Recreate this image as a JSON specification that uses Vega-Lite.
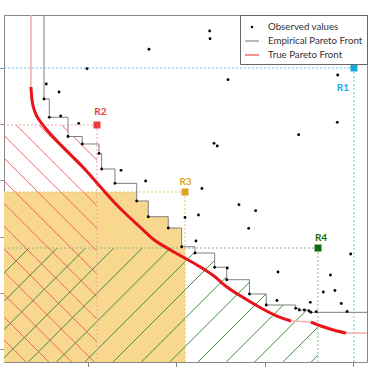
{
  "$schema": "https://vega.github.io/schema/vega-lite/v6.json",
  "width": 363,
  "height": 347,
  "autosize": {"type": "none"},
  "padding": {"left": 4, "top": 15, "right": 2, "bottom": 5},
  "background": "white",
  "config": {"view": {"stroke": "#888888", "strokeWidth": 1}},
  "datasets": {
    "pts": [
      {"x":169.1,"y":533.3},{"x":98.9,"y":498.8},{"x":52.8,"y":471.5},{"x":67.2,"y":457.3},{"x":50.2,"y":444.9},
      {"x":56.2,"y":412.3},{"x":69.1,"y":414.6},{"x":89.5,"y":401.6},{"x":77.4,"y":378.1},{"x":93.5,"y":364.8},
      {"x":112.5,"y":347.9},{"x":115.5,"y":320.3},{"x":137.4,"y":318.0},{"x":130.6,"y":294.8},{"x":165.3,"y":298.9},
      {"x":237.8,"y":565.8},{"x":238.2,"y":552.2},{"x":382.8,"y":487.6},{"x":258.6,"y":479.2},{"x":382.3,"y":403.4},
      {"x":338.6,"y":381.3},{"x":242.7,"y":366.0},{"x":246.4,"y":361.2},{"x":229.1,"y":285.6},{"x":209.9,"y":234.0},
      {"x":271.0,"y":256.8},{"x":289.9,"y":246.1},{"x":225.1,"y":238.4},{"x":282.0,"y":214.8},{"x":222.3,"y":192.2},
      {"x":155.2,"y":263.4},{"x":168.3,"y":235.4},{"x":190.9,"y":215.3},{"x":206.1,"y":182.0},{"x":221.2,"y":170.8},
      {"x":243.5,"y":145.4},{"x":257.8,"y":144.1},{"x":257.1,"y":123.3},{"x":315.2,"y":137.0},{"x":282.9,"y":97.9},
      {"x":314.0,"y":86.3},{"x":301.9,"y":78.3},{"x":351.8,"y":83.1},{"x":335.2,"y":72.4},{"x":339.3,"y":69.4},
      {"x":345.0,"y":69.4},{"x":350.3,"y":67.6},{"x":352.5,"y":65.3},{"x":358.5,"y":66.4},{"x":397.5,"y":169.0},
      {"x":374.6,"y":131.7},{"x":366.5,"y":101.4},{"x":379.7,"y":104.1},{"x":386.9,"y":81.0},{"x":393.5,"y":66.7}
    ],
    "emp": [
      {"i":0,"x":50.2,"y":594.3},{"i":1,"x":50.2,"y":444.9},{"i":2,"x":56.2,"y":412.3},{"i":3,"x":77.4,"y":378.1},
      {"i":4,"x":93.5,"y":364.8},{"i":5,"x":112.5,"y":347.9},{"i":6,"x":115.5,"y":320.3},{"i":7,"x":130.6,"y":294.8},
      {"i":8,"x":155.2,"y":263.4},{"i":9,"x":168.3,"y":235.4},{"i":10,"x":190.9,"y":215.3},{"i":11,"x":206.1,"y":182.0},
      {"i":12,"x":221.2,"y":170.8},{"i":13,"x":243.5,"y":145.4},{"i":14,"x":257.1,"y":123.3},{"i":15,"x":282.9,"y":97.9},
      {"i":16,"x":301.9,"y":78.3},{"i":17,"x":335.2,"y":72.4},{"i":18,"x":339.3,"y":69.4},{"i":19,"x":345.0,"y":69.4},
      {"i":20,"x":350.3,"y":67.6},{"i":21,"x":352.5,"y":65.3},{"i":22,"x":416,"y":65.3}
    ],
    "cov": [
      {"x":50.2,"y":444.9},{"x":56.2,"y":412.3},{"x":77.4,"y":378.1},{"x":93.5,"y":364.8},{"x":112.5,"y":347.9},
      {"x":115.5,"y":320.3},{"x":130.6,"y":294.8},{"x":155.2,"y":263.4},{"x":168.3,"y":235.4},{"x":190.9,"y":215.3},
      {"x":206.1,"y":182.0},{"x":221.2,"y":170.8},{"x":243.5,"y":145.4},{"x":257.1,"y":123.3},{"x":282.9,"y":97.9},
      {"x":301.9,"y":78.3},{"x":335.2,"y":72.4},{"x":339.3,"y":69.4},{"x":345.0,"y":69.4},{"x":350.3,"y":67.6},
      {"x":352.5,"y":65.3},{"x":361.5,"y":65.3}
    ],
    "tf": [
      {"seg":"a","i":0,"x":35.4,"y":466.2},{"seg":"a","i":1,"x":36.6,"y":443.1},{"seg":"a","i":2,"x":40.0,"y":421.7},
      {"seg":"a","i":3,"x":45.6,"y":405.7},{"seg":"a","i":4,"x":53.6,"y":389.7},{"seg":"a","i":5,"x":64.9,"y":370.1},
      {"seg":"a","i":6,"x":78.5,"y":348.8},{"seg":"a","i":7,"x":93.2,"y":325.6},{"seg":"a","i":8,"x":110.2,"y":295.4},
      {"seg":"a","i":9,"x":128.3,"y":263.4},{"seg":"a","i":10,"x":144.2,"y":238.4},{"seg":"a","i":11,"x":158.9,"y":217.1},
      {"seg":"a","i":12,"x":173.6,"y":195.7},{"seg":"a","i":13,"x":189.5,"y":179.7},{"seg":"a","i":14,"x":207.6,"y":163.7},
      {"seg":"a","i":15,"x":223.4,"y":149.5},{"seg":"a","i":16,"x":242.7,"y":129.9},{"seg":"a","i":17,"x":257.4,"y":110.3},
      {"seg":"a","i":18,"x":276.7,"y":90.7},{"seg":"a","i":19,"x":295.9,"y":73.0},{"seg":"a","i":20,"x":314.0,"y":58.7},
      {"seg":"a","i":21,"x":329.9,"y":49.8},
      {"seg":"b","i":0,"x":352.5,"y":48.0},{"seg":"b","i":1,"x":367.3,"y":39.1},{"seg":"b","i":2,"x":382.0,"y":32.0},
      {"seg":"b","i":3,"x":392.2,"y":28.5}
    ],
    "tfpale": [
      {"seg":"p1","i":0,"x":35.4,"y":594.3},{"seg":"p1","i":1,"x":35.4,"y":466.2},
      {"seg":"p2","i":0,"x":329.9,"y":49.8},{"seg":"p2","i":1,"x":352.5,"y":48.0},
      {"seg":"p3","i":0,"x":392.2,"y":28.5},{"seg":"p3","i":1,"x":416,"y":28.5}
    ],
    "hr": [
      {"x":95.9,"y":398.6,"x2":110.2,"y2":376.2},{"x":70.2,"y":398.6,"x2":110.2,"y2":335.8},
      {"x":44.5,"y":398.6,"x2":110.2,"y2":295.4},{"x":18.8,"y":398.6,"x2":110.2,"y2":255.0},
      {"x":4.9,"y":380.1,"x2":110.2,"y2":214.6},{"x":4.9,"y":339.7,"x2":110.2,"y2":174.2},
      {"x":4.9,"y":299.3,"x2":110.2,"y2":133.8},{"x":4.9,"y":258.9,"x2":110.2,"y2":93.4},
      {"x":4.9,"y":218.5,"x2":110.2,"y2":53.0},{"x":4.9,"y":178.1,"x2":110.2,"y2":12.6},
      {"x":4.9,"y":137.7,"x2":107.2,"y2":-23.1},{"x":4.9,"y":97.3,"x2":81.5,"y2":-23.1},
      {"x":4.9,"y":56.9,"x2":55.8,"y2":-23.1},{"x":4.9,"y":16.5,"x2":30.1,"y2":-23.1}
    ],
    "hg": [
      {"x":4.9,"y":135.2,"x2":33.2,"y2":179.7},{"x":4.9,"y":84.9,"x2":65.2,"y2":179.7},
      {"x":4.9,"y":34.5,"x2":97.3,"y2":179.7},{"x":4.9,"y":-15.8,"x2":129.3,"y2":179.7},
      {"x":32.3,"y":-23.1,"x2":161.4,"y2":179.7},{"x":64.3,"y":-23.1,"x2":193.4,"y2":179.7},
      {"x":96.4,"y":-23.1,"x2":225.5,"y2":179.7},{"x":128.4,"y":-23.1,"x2":257.5,"y2":179.7},
      {"x":160.5,"y":-23.1,"x2":289.6,"y2":179.7},{"x":192.5,"y":-23.1,"x2":321.6,"y2":179.7},
      {"x":224.6,"y":-23.1,"x2":353.7,"y2":179.7},{"x":256.6,"y":-23.1,"x2":360.5,"y2":140.0},
      {"x":288.7,"y":-23.1,"x2":360.5,"y2":89.7},{"x":320.7,"y":-23.1,"x2":360.5,"y2":39.3},
      {"x":352.8,"y":-23.1,"x2":360.5,"y2":-11.0}
    ],
    "refs": [
      {"R":"R1","x":401.2,"y":500.0},{"R":"R2","x":110.2,"y":398.6},
      {"R":"R3","x":209.9,"y":279.4},{"R":"R4","x":360.5,"y":179.7}
    ]
  },
  "encoding": {
    "x": {"field": "x", "type": "quantitative",
      "scale": {"domain": [4.9, 416], "nice": false, "zero": false},
      "axis": {"title": null, "labels": false, "domain": false, "grid": false, "ticks": true,
        "tickColor": "#888888", "tickSize": 5, "values": [100, 200, 300, 400]}},
    "y": {"field": "y", "type": "quantitative",
      "scale": {"domain": [-23.1, 594.3], "nice": false, "zero": false},
      "axis": {"title": null, "labels": false, "domain": false, "grid": false, "ticks": true,
        "tickColor": "#888888", "tickSize": 4, "values": [0, 100, 200, 300, 400, 500]}}
  },
  "layer": [
    {
      "data": {"name": "refs"},
      "transform": [{"filter": "datum.R === 'R3'"}],
      "mark": {"type": "rect", "fill": "#F8D78E", "stroke": null},
      "encoding": {"x2": {"datum": 4.9}, "y2": {"datum": -23.1}}
    },
    {
      "data": {"name": "hr"},
      "mark": {"type": "rule", "color": "#EE6464", "strokeWidth": 1, "clip": true},
      "encoding": {"x2": {"field": "x2"}, "y2": {"field": "y2"}}
    },
    {
      "data": {"name": "hg"},
      "mark": {"type": "rule", "color": "#3F8F3F", "strokeWidth": 1, "clip": true},
      "encoding": {"x2": {"field": "x2"}, "y2": {"field": "y2"}}
    },
    {
      "data": {"name": "cov"},
      "mark": {"type": "area", "fill": "white", "interpolate": "step-after"},
      "encoding": {"y2": {"datum": 400}}
    },
    {
      "data": {"name": "refs"},
      "mark": {"type": "rule", "strokeWidth": 1, "strokeDash": [2, 2]},
      "encoding": {
        "x2": {"datum": 4.9},
        "stroke": {"field": "R", "type": "nominal", "legend": null,
          "scale": {"domain": ["R1","R2","R3","R4"], "range": ["#5EC4EE","#F5A3A3","#E3C46C","#93B593"]}}
      }
    },
    {
      "data": {"name": "refs"},
      "mark": {"type": "rule", "strokeWidth": 1, "strokeDash": [2, 2]},
      "encoding": {
        "y2": {"datum": -23.1},
        "stroke": {"field": "R", "type": "nominal", "legend": null,
          "scale": {"domain": ["R1","R2","R3","R4"], "range": ["#5EC4EE","#F5A3A3","#E3C46C","#93B593"]}}
      }
    },
    {
      "data": {"name": "tfpale"},
      "mark": {"type": "line", "color": "#F5AEAE", "strokeWidth": 1.6},
      "encoding": {"detail": {"field": "seg"}, "order": {"field": "i"}}
    },
    {
      "data": {"name": "tf"},
      "mark": {"type": "line", "color": "#E8141A", "strokeWidth": 3, "interpolate": "monotone"},
      "encoding": {"detail": {"field": "seg"}, "order": {"field": "i"}}
    },
    {
      "data": {"name": "emp"},
      "mark": {"type": "line", "color": "#7F7F7F", "strokeWidth": 1, "interpolate": "step-after"},
      "encoding": {"order": {"field": "i"}}
    },
    {
      "data": {"name": "pts"},
      "mark": {"type": "circle", "size": 8, "opacity": 1, "color": "black"}
    },
    {
      "data": {"name": "pts"},
      "transform": [{"filter": "false"}],
      "mark": {"type": "point", "filled": false, "opacity": 1},
      "encoding": {
        "color": {"datum": "Observed values", "type": "nominal",
          "scale": {"domain": ["Observed values", "Empirical Pareto Front", "True Pareto Front"],
            "range": ["black", "#A0A0A0", "#F06A6A"]},
          "legend": {
            "title": null, "orient": "top-right", "offset": 0, "padding": 4,
            "fillColor": "white", "strokeColor": "#666666", "cornerRadius": 0,
            "symbolSize": 196, "symbolStrokeWidth": 1.5,
            "labelFont": "Lato", "labelFontSize": 9.7, "labelColor": "#333333",
            "labelOffset": 8, "rowPadding": 1
          }
        },
        "shape": {"datum": "Observed values", "type": "nominal",
          "scale": {"domain": ["Observed values", "Empirical Pareto Front", "True Pareto Front"],
            "range": ["M-0.08,0A0.08,0.08,0,1,1,0.08,0A0.08,0.08,0,1,1,-0.08,0Z", "stroke", "stroke"]},
          "legend": {
            "title": null, "orient": "top-right", "offset": 0, "padding": 4,
            "fillColor": "white", "strokeColor": "#666666", "cornerRadius": 0,
            "symbolSize": 196, "symbolStrokeWidth": 1.5,
            "labelFont": "Lato", "labelFontSize": 9.7, "labelColor": "#333333",
            "labelOffset": 8, "rowPadding": 1
          }
        }
      }
    },
    {
      "data": {"name": "refs"},
      "mark": {"type": "square", "size": 49, "opacity": 1},
      "encoding": {
        "fill": {"field": "R", "type": "nominal", "legend": null,
          "scale": {"domain": ["R1","R2","R3","R4"], "range": ["#17A9E3","#F03A3A","#DBA522","#0E6B15"]}}
      }
    },
    {
      "data": {"name": "refs"},
      "transform": [{"filter": "datum.R === 'R1'"}],
      "mark": {"type": "text", "color": "#17A9E3", "font": "Lato", "fontWeight": "bold", "fontSize": 10, "dx": -11, "dy": 20.5, "baseline": "middle", "align": "center"},
      "encoding": {"text": {"field": "R"}}
    },
    {
      "data": {"name": "refs"},
      "transform": [{"filter": "datum.R === 'R2'"}],
      "mark": {"type": "text", "color": "#F03A3A", "font": "Lato", "fontWeight": "bold", "fontSize": 10, "dx": 3.5, "dy": -12.5, "baseline": "middle", "align": "center"},
      "encoding": {"text": {"field": "R"}}
    },
    {
      "data": {"name": "refs"},
      "transform": [{"filter": "datum.R === 'R3'"}],
      "mark": {"type": "text", "color": "#DBA522", "font": "Lato", "fontWeight": "bold", "fontSize": 10, "dx": 0.5, "dy": -10, "baseline": "middle", "align": "center"},
      "encoding": {"text": {"field": "R"}}
    },
    {
      "data": {"name": "refs"},
      "transform": [{"filter": "datum.R === 'R4'"}],
      "mark": {"type": "text", "color": "#0E6B15", "font": "Lato", "fontWeight": "bold", "fontSize": 10, "dx": 3, "dy": -10, "baseline": "middle", "align": "center"},
      "encoding": {"text": {"field": "R"}}
    }
  ]
}
